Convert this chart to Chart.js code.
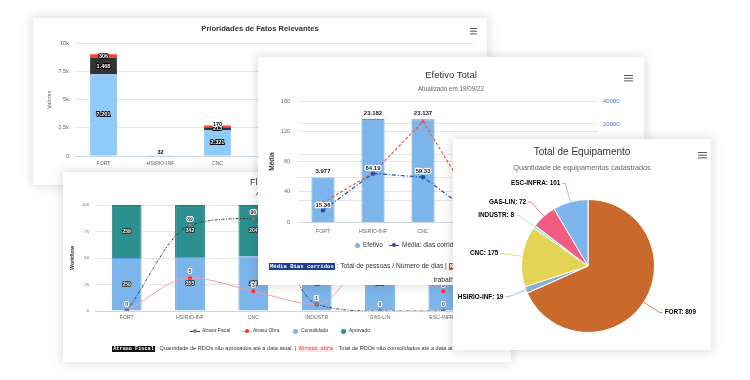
<!DOCTYPE html>
<html><head><meta charset="utf-8">
<script src="https://cdn.jsdelivr.net/npm/chart.js@4.4.0/dist/chart.umd.min.js"></script>
<style>
body{margin:0;width:750px;height:380px;background:#fff;position:relative;overflow:hidden;font-family:"Liberation Sans",Arial,sans-serif;}
.card{position:absolute;background:#fff;box-shadow:0 0 10px 2px rgba(0,0,0,0.12);overflow:hidden;}
.card canvas{position:absolute;left:0;top:0;}
.t{position:absolute;white-space:nowrap;transform:translate(-50%,-50%);color:#333;line-height:1;}
.menu{position:absolute;height:1.4px;background:#555;box-shadow:0 2.7px 0 #555,0 5.4px 0 #555;}
.lt{position:absolute;white-space:nowrap;transform:translateY(-50%);color:#333;line-height:1;}
.dot{position:absolute;border-radius:50%;}
.ln{position:absolute;height:0;}
.note{position:absolute;text-align:center;color:#333;}
.b1{font-family:"Liberation Mono","DejaVu Sans Mono",monospace;font-weight:bold;background:#1d3f91;color:#fff;padding:0 1px;}
.b2{font-family:"Liberation Mono","DejaVu Sans Mono",monospace;font-weight:bold;background:#e65220;color:#fff;padding:0 1px;}
.b3{font-family:"Liberation Mono","DejaVu Sans Mono",monospace;font-weight:bold;background:#111;color:#fff;padding:0 1px;}
.b4{font-family:"Liberation Mono","DejaVu Sans Mono",monospace;background:#fde7ea;color:#e0303a;padding:0 1px;}
</style>
</head>
<body>
<div class="card" id="c1" style="left:33px;top:18px;width:454px;height:167px;z-index:1">
  <canvas id="ch1" width="454" height="167"></canvas>
  <div class="t" style="left:227px;top:11px;font-size:7.6px;font-weight:600;">Prioridades de Fatos Relevantes</div>
  <div class="menu" style="left:437px;top:9.5px;width:7px;"></div>
</div>
<div class="card" id="c4" style="left:63px;top:172px;width:448px;height:190px;z-index:2">
  <canvas id="ch4" width="448" height="190"></canvas>
  <div class="t" style="left:224px;top:10px;font-size:9px;">Fluxo de Workflow</div>
  <div class="t" style="left:224px;top:22px;font-size:6px;color:#666;">Atualizado em 19/09/22</div>
  <div class="ln" style="left:127px;top:159px;width:10px;border-top:1px dashed #333;"></div>
  <div class="dot" style="left:130px;top:157px;width:4px;height:4px;background:#888;"></div>
  <div class="lt" style="left:139px;top:159px;font-size:4.9px;">Atraso Fiscal</div>
  <div class="ln" style="left:179px;top:159px;width:10px;border-top:1px solid #ff9a9a;"></div>
  <div class="dot" style="left:182px;top:157px;width:4px;height:4px;background:#ff3030;"></div>
  <div class="lt" style="left:190px;top:159px;font-size:4.9px;">Atraso Obra</div>
  <div class="dot" style="left:230px;top:157px;width:4.5px;height:4.5px;background:#7cb5ec;"></div>
  <div class="lt" style="left:238px;top:159px;font-size:4.9px;">Consolidado</div>
  <div class="dot" style="left:278px;top:157px;width:4.5px;height:4.5px;background:#2b908f;"></div>
  <div class="lt" style="left:286px;top:159px;font-size:4.9px;">Aprovado</div>
  <div class="note" style="left:0;top:172px;width:448px;font-size:5.6px;line-height:8px;"><span class="b3" style="font-size:5.2px">Atraso Fiscal</span> : Quantidade de RDOs não aprovados até a data atual. | <span class="b4" style="font-size:5.2px">Atraso obra</span> : Total de RDOs não consolidados até a data atual.</div>
</div>
<div class="card" id="c2" style="left:258px;top:57px;width:386px;height:228px;z-index:3">
  <canvas id="ch2" width="386" height="228"></canvas>
  <div class="t" style="left:193px;top:18px;font-size:9.5px;">Efetivo Total</div>
  <div class="t" style="left:193px;top:32px;font-size:6.3px;color:#666;">Atualizado em 19/09/22</div>
  <div class="menu" style="left:366px;top:17.5px;width:9px;"></div>
  <div class="dot" style="left:96.5px;top:185.5px;width:5px;height:5px;background:#7cb5ec;"></div>
  <div class="lt" style="left:105px;top:188px;font-size:6.5px;">Efetivo</div>
  <div class="ln" style="left:131px;top:188px;width:10px;border-top:1.2px dashed #1f4fa3;"></div>
  <div class="dot" style="left:134px;top:186px;width:4px;height:4px;background:#1f4fa3;"></div>
  <div class="lt" style="left:144px;top:188px;font-size:6.5px;">Média: dias corridos</div>
  <div class="ln" style="left:215px;top:188px;width:10px;border-top:1.2px dashed #f0502a;"></div>
  <div class="lt" style="left:228px;top:188px;font-size:6.5px;">Média: dias trabalhados</div>
  <div class="note" style="left:8px;top:202px;width:370px;font-size:6.7px;line-height:13px;"><span class="b1" style="font-size:5.6px">Média Dias corridos</span> : Total de pessoas / Número de dias | <span class="b2" style="font-size:5.6px">Média Dias trabalhados</span> : Total de pessoas / Número de dias trabalhados</div>
</div>
<div class="card" id="c3" style="left:453px;top:139px;width:258px;height:211px;z-index:4">
  <canvas id="ch3" width="258" height="211"></canvas>
  <div class="t" style="left:129px;top:13px;font-size:10px;">Total de Equipamento</div>
  <div class="t" style="left:129px;top:29px;font-size:7.3px;color:#666;">Quantidade de equipamentos cadastrados</div>
  <div class="menu" style="left:245px;top:12.5px;width:9px;"></div>
</div>
<script>
// ---------------- DATA ----------------
// Prioridades de Fatos Relevantes
const fatosCategorias = ['FORT','HSIRIO-INF','CNC','INDUSTR','GAS-LIN','ESC-INFRA',''];
const fatosNormal  = [7261, 32, 2321, 410, 620, 880, 0];
const fatosAlta    = [1468, 0, 213, 60, 90, 120, 0];
const fatosCritica = [306, 0, 170, 20, 30, 40, 0];
const fatosTicks   = ['0','2,5k','5k','7,5k','10k'];

// Efetivo Total
const efetivoCategorias = ['FORT','HSIRIO-INF','CNC','INDUSTR','GAS-LIN','ESC-INFRA'];
const efetivo          = [3977, 23182, 23137, 1210, 2105, 3380];
const mediaCorridos    = [15.36, 64.19, 59.33, 10.6, 22.4, 31.2];
const mediaTrabalhados = [25.5, 64.9, 133.0, 25.0, 35.0, 44.0];
const efetivoTicksDireita = [2000, 4000, 8000, 20000, 40000];

// Total de Equipamento
const equipCategorias = ['FORT','HSIRIO-INF','CNC','INDUSTR','GAS-LIN','ESC-INFRA'];
const equipamentos    = [809, 19, 175, 8, 72, 101];

// Fluxo de Workflow
const fluxoCategorias = ['FORT','HSIRIO-INF','CNC','INDUSTR','GAS-LIN','ESC-INFRA'];
const consolidado  = [259, 355, 218, 45, 140, 96];
const aprovado     = [259, 342, 204, 43, 131, 90];
const atrasoFiscal = [0, 89, 96, 7, 0, 0];
const atrasoObra   = [0, 5, 3, 1, 9, 3];

// ---------------- HELPERS ----------------
const FONT = '"Liberation Sans", Arial, sans-serif';
const pieColors = ['#c96a2c','#8aaecb','#e4d354','#91e8e1','#f15c80','#7cb5ec'];
function fmt(v){return String(v).replace(/\B(?=(\d{3})+(?!\d))/g,'.');}
function txt(ctx,t,x,y,font,fill,stroke,lw,align){
  ctx.save();ctx.font=font;ctx.textAlign=align||'center';ctx.textBaseline='middle';ctx.lineJoin='round';
  if(stroke){ctx.strokeStyle=stroke;ctx.lineWidth=lw||2;ctx.strokeText(t,x,y);}
  ctx.fillStyle=fill;ctx.fillText(t,x,y);ctx.restore();
}
function fixW(w){return s=>{s.width=w;};}
function fixH(h){return s=>{s.height=h;};}
const gridC = '#e6e6e6';

// ---------------- CHART 1 ----------------
new Chart(document.getElementById('ch1'),{
  type:'bar',
  data:{labels:fatosCategorias,datasets:[
    {label:'Normal',data:fatosNormal,backgroundColor:'#90caf9'},
    {label:'Alta',data:fatosAlta,backgroundColor:'#333333'},
    {label:'Crítica',data:fatosCritica,backgroundColor:'#f44336'}]},
  options:{responsive:false,animation:false,
    layout:{padding:{top:25.5,left:0,right:13,bottom:9}},
    plugins:{legend:{display:false},tooltip:{enabled:false}},
    datasets:{bar:{categoryPercentage:1,barPercentage:0.47,borderWidth:0}},
    scales:{
      x:{stacked:true,grid:{display:false,drawTicks:false},border:{color:'#ccd6eb'},
         ticks:{font:{size:5.2,family:FONT},color:'#666',padding:4,maxRotation:0,autoSkip:false},afterFit:fixH(20)},
      y:{stacked:true,min:0,max:10000,border:{display:false},
         grid:{color:gridC,drawTicks:false},
         ticks:{stepSize:2500,font:{size:5.6,family:FONT},color:'#666',padding:6,callback:(v,i)=>fatosTicks[i]},
         title:{display:true,text:'Valores',font:{size:5.6,family:FONT},color:'#666',padding:{top:13,bottom:0}},
         afterFit:fixW(42)}
    }},
  plugins:[{id:'lab1',afterDatasetsDraw(chart){
    const ctx=chart.ctx;
    chart.data.datasets.forEach((ds,di)=>{
      chart.getDatasetMeta(di).data.forEach((el,i)=>{
        const v=ds.data[i]; if(!v) return;
        const h=Math.abs(el.base-el.y);
        if(h<2){txt(ctx,fmt(v),el.x,el.base-3,'bold 5.5px '+FONT,'#000','#fff',2);}
        else txt(ctx,fmt(v),el.x,(el.y+el.base)/2,'bold 5.5px '+FONT,'#fff','#000',1.8);
      });
    });
  }}]
});

// ---------------- CHART 2 ----------------
new Chart(document.getElementById('ch2'),{
  data:{labels:efetivoCategorias,datasets:[
    {type:'line',label:'Média: dias corridos',data:mediaCorridos,yAxisID:'y',borderColor:'#1f4fa3',backgroundColor:'#1f4fa3',
      borderWidth:1.2,borderDash:[4,2,1,2],pointRadius:2.2,pointStyle:'circle',pointBorderWidth:0,tension:0,order:0},
    {type:'line',label:'Média: dias trabalhados',data:mediaTrabalhados,yAxisID:'y',borderColor:'#f0502a',backgroundColor:'#f0502a',
      borderWidth:1.1,borderDash:[3,2],pointRadius:2.6,pointStyle:'triangle',pointBorderWidth:0,tension:0,order:1},
    {type:'bar',label:'Efetivo',data:efetivo,yAxisID:'y1',backgroundColor:'#7cb5ec',borderColor:'#4d94db',borderWidth:1,
      categoryPercentage:1,barPercentage:0.46,order:2}]},
  options:{responsive:false,animation:false,
    layout:{padding:{top:44,left:0,right:0,bottom:49}},
    plugins:{legend:{display:false},tooltip:{enabled:false}},
    scales:{
      x:{grid:{display:false,drawTicks:false},border:{color:'#ccd6eb'},
         ticks:{font:{size:5.2,family:FONT},color:'#666',padding:6,maxRotation:0,autoSkip:false},afterFit:fixH(14)},
      y:{position:'left',min:0,max:160,border:{display:false},grid:{color:gridC,drawTicks:false},
         ticks:{stepSize:40,font:{size:5.5,family:FONT},color:'#666',padding:8},
         title:{display:true,text:'Média',font:{size:6.5,weight:'bold',family:FONT},color:'#333',padding:{top:10,bottom:0}},
         afterFit:fixW(40)},
      y1:{type:'logarithmic',position:'right',min:1040,max:40000,bounds:'data',border:{display:false},
         grid:{color:gridC,drawTicks:false},
         afterBuildTicks:s=>{s.ticks=efetivoTicksDireita.map(v=>({value:v}));},
         ticks:{font:{size:6,family:FONT},color:'#4a7ec4',padding:5,callback:v=>String(v)},
         afterFit:fixW(46)}
    }},
  plugins:[{id:'lab2',afterDatasetsDraw(chart){
    const ctx=chart.ctx;
    const mb=chart.getDatasetMeta(2);
    mb.data.forEach((el,i)=>txt(ctx,fmt(efetivo[i]),el.x,el.y-6,'bold 6px '+FONT,'#222','#fff',2));
    const ml=chart.getDatasetMeta(0);
    ml.data.forEach((el,i)=>txt(ctx,mediaCorridos[i].toFixed(2),el.x,el.y-5.5,'bold 6px '+FONT,'#222','#fff',2.4));
  }}]
});

// ---------------- CHART 4 ----------------
const totalFluxo = consolidado.map((v,i)=>v+aprovado[i]);
const pctConsolidado = consolidado.map((v,i)=>v/totalFluxo[i]*100);
const pctAprovado = aprovado.map((v,i)=>v/totalFluxo[i]*100);
new Chart(document.getElementById('ch4'),{
  data:{labels:fluxoCategorias,datasets:[
    {type:'line',label:'Atraso Fiscal',data:atrasoFiscal,yAxisID:'y2',borderColor:'#333',borderWidth:0.9,borderDash:[3,1.5,1,1.5],
      pointRadius:2,pointBackgroundColor:'#8a8a8a',pointBorderColor:'#555',pointBorderWidth:0.5,cubicInterpolationMode:'monotone',order:0},
    {type:'line',label:'Atraso Obra',data:atrasoObra,yAxisID:'y3',borderColor:'#ff9a9a',borderWidth:1,
      pointRadius:2,pointBackgroundColor:'#ff3030',pointBorderWidth:0,cubicInterpolationMode:'monotone',order:1},
    {type:'bar',label:'Consolidado',data:pctConsolidado,yAxisID:'y',backgroundColor:'#7cb5ec',borderColor:'#5b9fe0',borderWidth:1,
      categoryPercentage:1,barPercentage:0.47,order:2},
    {type:'bar',label:'Aprovado',data:pctAprovado,yAxisID:'y',backgroundColor:'#2b908f',borderColor:'#207a79',borderWidth:1,
      categoryPercentage:1,barPercentage:0.47,order:3}]},
  options:{responsive:false,animation:false,
    layout:{padding:{top:33,left:0,right:36,bottom:39}},
    plugins:{legend:{display:false},tooltip:{enabled:false}},
    scales:{
      x:{stacked:true,grid:{display:false,drawTicks:false},border:{color:'#ccd6eb'},
         ticks:{font:{size:5.2,family:FONT},color:'#666',padding:3,maxRotation:0,autoSkip:false},afterFit:fixH(12)},
      y:{stacked:true,min:0,max:100,border:{display:false},grid:{color:gridC,drawTicks:false},
         ticks:{stepSize:25,font:{size:4.2,family:FONT},color:'#666',padding:6},
         title:{display:true,text:'Workflow',font:{size:5.4,weight:'bold',family:FONT},color:'#333',padding:{top:6,bottom:0}},
         afterFit:fixW(32)},
      y2:{display:false,min:0,max:110},
      y3:{display:false,min:0,max:16}
    }},
  plugins:[{id:'lab4',afterDatasetsDraw(chart){
    const ctx=chart.ctx;
    [[2,consolidado],[3,aprovado]].forEach(([di,arr])=>{
      chart.getDatasetMeta(di).data.forEach((el,i)=>txt(ctx,String(arr[i]),el.x,(el.y+el.base)/2,'bold 5px '+FONT,'#fff','#222',1.6));
    });
    [[0,atrasoFiscal],[1,atrasoObra]].forEach(([di,arr])=>{
      chart.getDatasetMeta(di).data.forEach((el,i)=>txt(ctx,String(arr[i]),el.x,el.y-6,'bold 5px '+FONT,'#333','#fff',2.2));
    });
  }}]
});

// ---------------- CHART 3 (PIE) ----------------
new Chart(document.getElementById('ch3'),{
  type:'pie',
  data:{labels:equipCategorias,datasets:[{data:equipamentos,backgroundColor:pieColors,borderColor:'#fff',borderWidth:1}]},
  options:{responsive:false,animation:false,
    layout:{padding:{left:68,right:56,top:60,bottom:17}},
    plugins:{legend:{display:false},tooltip:{enabled:false}},
  },
  plugins:[{id:'pielab',afterDatasetsDraw(chart){
    const ctx=chart.ctx;
    chart.getDatasetMeta(0).data.forEach((arc,i)=>{
      const p=arc.getProps(['x','y','startAngle','endAngle','outerRadius'],true);
      const m=(p.startAngle+p.endAngle)/2, c=Math.cos(m), s=Math.sin(m);
      const R=p.outerRadius, d=19;
      const ex=p.x+c*R, ey=p.y+s*R, ax=p.x+c*(R+d), ay=p.y+s*(R+d);
      const right=c>=0;
      ctx.save();ctx.strokeStyle=pieColors[i];ctx.lineWidth=0.8;
      ctx.beginPath();ctx.moveTo(ex,ey);ctx.lineTo(ax,ay);ctx.lineTo(ax+(right?3:-3),ay);ctx.stroke();ctx.restore();
      txt(ctx,equipCategorias[i]+': '+equipamentos[i],ax+(right?5:-5),ay,'bold 6.4px '+FONT,'#000','#fff',2,right?'left':'right');
    });
  }}]
});
</script>
</body></html>
